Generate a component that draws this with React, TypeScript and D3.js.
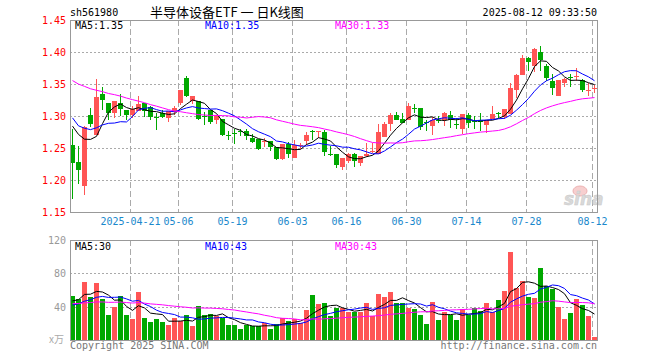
import React, { useRef, useEffect } from "react";
import * as d3 from "d3";

// trading days shown (2025)
const days = (
  "04-07 04-08 04-09 04-10 04-11 04-14 04-15 04-16 04-17 04-18 04-21 04-22 04-23 04-24 04-25 04-28 04-29 04-30 " +
  "05-06 05-07 05-08 05-09 05-12 05-13 05-14 05-15 05-16 05-19 05-20 05-21 05-22 05-23 05-26 05-27 05-28 05-29 05-30 " +
  "06-03 06-04 06-05 06-06 06-09 06-10 06-11 06-12 06-13 06-16 06-17 06-18 06-19 06-20 06-23 06-24 06-25 06-26 06-27 06-30 " +
  "07-01 07-02 07-03 07-04 07-07 07-08 07-09 07-10 07-11 07-14 07-15 07-16 07-17 07-18 07-21 07-22 07-23 07-24 07-25 07-28 07-29 07-30 07-31 " +
  "08-01 08-04 08-05 08-06 08-07 08-08 08-11 08-12"
).split(" ");

const opens = [
  1.254, 1.228, 1.19, 1.301, 1.271, 1.335, 1.321, 1.304, 1.321, 1.31,
  1.301, 1.308, 1.321, 1.314, 1.299, 1.304, 1.297, 1.306, 1.32, 1.36,
  1.324, 1.324, 1.3, 1.31, 1.293, 1.296, 1.27, 1.273, 1.276, 1.276,
  1.266, 1.264, 1.26, 1.261, 1.252, 1.233, 1.257, 1.234, 1.253, 1.261,
  1.277, 1.275, 1.275, 1.24, 1.24, 1.22, 1.229, 1.24, 1.226, 1.238,
  1.243, 1.241, 1.267, 1.288, 1.301, 1.295, 1.293, 1.312, 1.312, 1.291,
  1.284, 1.293, 1.293, 1.302, 1.287, 1.279, 1.301, 1.292, 1.294, 1.286,
  1.296, 1.305, 1.298, 1.303, 1.341, 1.364, 1.39, 1.378, 1.4, 1.378,
  1.355, 1.332, 1.352, 1.361, 1.361, 1.357, 1.339, 1.342,
];
const highs = [
  1.28, 1.253, 1.284, 1.313, 1.358, 1.346, 1.321, 1.324, 1.335, 1.31,
  1.315, 1.332, 1.321, 1.316, 1.304, 1.31, 1.308, 1.316, 1.34, 1.363,
  1.332, 1.324, 1.306, 1.31, 1.301, 1.296, 1.276, 1.279, 1.279, 1.279,
  1.272, 1.264, 1.266, 1.261, 1.252, 1.257, 1.259, 1.263, 1.258, 1.275,
  1.278, 1.276, 1.278, 1.253, 1.24, 1.235, 1.242, 1.242, 1.238, 1.258,
  1.258, 1.287, 1.29, 1.305, 1.307, 1.305, 1.321, 1.318, 1.312, 1.293,
  1.298, 1.3, 1.307, 1.308, 1.297, 1.303, 1.305, 1.3, 1.304, 1.293,
  1.315, 1.307, 1.311, 1.352, 1.366, 1.395, 1.392, 1.406, 1.409, 1.381,
  1.366, 1.357, 1.36, 1.365, 1.375, 1.358, 1.352, 1.348,
];
const lows = [
  1.171, 1.193, 1.177, 1.283, 1.27, 1.31, 1.293, 1.297, 1.3, 1.293,
  1.297, 1.308, 1.298, 1.294, 1.278, 1.297, 1.291, 1.301, 1.317, 1.33,
  1.318, 1.294, 1.286, 1.288, 1.288, 1.269, 1.263, 1.257, 1.268, 1.263,
  1.258, 1.247, 1.252, 1.246, 1.231, 1.232, 1.234, 1.234, 1.249, 1.255,
  1.263, 1.266, 1.237, 1.237, 1.219, 1.216, 1.227, 1.221, 1.222, 1.236,
  1.242, 1.241, 1.267, 1.276, 1.293, 1.289, 1.293, 1.305, 1.278, 1.276,
  1.271, 1.289, 1.285, 1.281, 1.279, 1.272, 1.281, 1.279, 1.277, 1.273,
  1.296, 1.297, 1.296, 1.303, 1.328, 1.364, 1.371, 1.369, 1.371, 1.355,
  1.333, 1.331, 1.345, 1.346, 1.354, 1.338, 1.331, 1.336,
];
const closes = [
  1.226, 1.215, 1.283, 1.288, 1.329, 1.325, 1.305, 1.324, 1.311, 1.301,
  1.311, 1.318, 1.308, 1.299, 1.298, 1.299, 1.308, 1.313, 1.34, 1.332,
  1.332, 1.296, 1.299, 1.291, 1.301, 1.271, 1.269, 1.272, 1.275, 1.268,
  1.26, 1.248, 1.261, 1.252, 1.233, 1.257, 1.241, 1.254, 1.254, 1.271,
  1.276, 1.276, 1.243, 1.239, 1.224, 1.235, 1.24, 1.229, 1.238, 1.24,
  1.246, 1.275, 1.288, 1.301, 1.293, 1.289, 1.315, 1.311, 1.283, 1.29,
  1.294, 1.292, 1.305, 1.293, 1.286, 1.303, 1.289, 1.291, 1.291, 1.293,
  1.303, 1.303, 1.311, 1.343, 1.364, 1.391, 1.384, 1.404, 1.388, 1.36,
  1.343, 1.357, 1.358, 1.36, 1.362, 1.34, 1.34, 1.343,
];
// volume, 万手
const volumes = [
  52.8, 48.8, 70, 51.2, 68.8, 49.2, 30, 39.6, 52.8, 30,
  25.2, 58, 26.4, 21.6, 25.2, 21.6, 18, 26.4, 22.4, 30,
  16.8, 40.8, 30, 31.2, 28.4, 26.4, 18, 18, 13.2, 18,
  16.8, 16.8, 20.4, 13.2, 19.2, 26.4, 22.4, 25.2, 20.4, 36,
  54, 43.2, 44.4, 28.8, 38.4, 38.4, 33.6, 33.6, 33.6, 44.4,
  28.8, 55.2, 51.6, 57.6, 44.4, 44.4, 38.4, 37.2, 30, 19.2,
  45.6, 24, 33.6, 30, 24, 36.8, 30, 38.4, 34.8, 44.4,
  33.6, 48, 58.8, 105.6, 62.4, 70.8, 51.6, 50.4, 86.4, 64.8,
  61.6, 39.6, 25.2, 32.4, 49.2, 41.6, 28.8, 3.6,
];

// sessions before 04-07, only used to start the moving averages (estimated from where the MA lines begin)
const preCloses = [
  1.38, 1.39, 1.4, 1.4, 1.39, 1.39, 1.38, 1.38, 1.39, 1.385,
  1.39, 1.38, 1.39, 1.37, 1.38, 1.39, 1.38, 1.37, 1.38, 1.375,
  1.34, 1.32, 1.31, 1.3, 1.28, 1.28, 1.32, 1.29, 1.305,
];
const preVolumes = [
  42, 48, 40, 46, 50, 44, 38, 45, 47, 43,
  41, 46, 49, 42, 39, 45, 48, 44, 47, 44,
  35, 38, 33, 40, 39, 42, 38, 50, 52,
];

const tickDays = ["04-21", "05-06", "05-19", "06-03", "06-16", "06-30", "07-14", "07-28", "08-12"];
const tickLabels = ["2025-04-21", "05-06", "05-19", "06-03", "06-16", "06-30", "07-14", "07-28", "08-12"];
const priceTicks = [1.45, 1.4, 1.35, 1.3, 1.25, 1.2, 1.15];
const volTicks = [120, 80, 40];
const maPeriods = [5, 10, 30];
const maColors = ["#000000", "#0000ff", "#ff00ff"];
const priceLegend = ["MA5:1.35", "MA10:1.35", "MA30:1.33"];
const volLegend = ["MA5:30", "MA10:43", "MA30:43"];

const RED = "#ff5555";
const GREEN = "#00a800";
const MONO = "'DejaVu Sans Mono', monospace";

function movingAvg(values: number[], pre: number[], n: number) {
  const all = pre.concat(values);
  return values.map((_, i) => {
    const end = pre.length + i + 1;
    return d3.mean(all.slice(end - n, end)) as number;
  });
}

const App = () => {
  const ref = useRef<SVGSVGElement>(null);

  useEffect(() => {
    if (!ref.current) return;
    const svg = d3.select(ref.current);
    svg.selectAll("*").remove();

    const left = 70;
    const right = 597;
    const pTop = 20;
    const pBot = 212;
    const vTop = 240;
    const vBot = 340;

    const x = d3.scaleBand().domain(days).range([left, right]).paddingInner(1 / 6).paddingOuter(0);
    const bw = x.bandwidth();
    const cx = (d: string) => (x(d) as number) + bw / 2;
    const y = d3.scaleLinear().domain([1.15, 1.45]).range([pBot, pTop]);
    const yv = d3.scaleLinear().domain([0, 120]).range([vBot, vTop]);

    svg.append("rect").attr("width", 660).attr("height", 360).attr("fill", "#fff");

    // header
    svg.append("text").attr("x", 70).attr("y", 16).attr("font-family", MONO).attr("font-size", 10)
      .attr("fill", "#000").text("sh561980");
    svg.append("text").attr("x", 150).attr("y", 17).attr("font-family", "'Noto Sans CJK SC', sans-serif")
      .attr("font-size", 13).attr("fill", "#000").text("半导体设备ETF 一 日K线图");
    svg.append("text").attr("x", right).attr("y", 16).attr("text-anchor", "end").attr("font-family", MONO)
      .attr("font-size", 10).attr("fill", "#000").text("2025-08-12 09:33:50");

    // grids
    const grid = svg.append("g").attr("shape-rendering", "crispEdges");
    grid.selectAll(".hp").data(priceTicks.slice(1, -1)).join("line")
      .attr("x1", left).attr("x2", right)
      .attr("y1", (d) => Math.round(y(d)) + 0.5).attr("y2", (d) => Math.round(y(d)) + 0.5)
      .attr("stroke", "#aaa").attr("stroke-dasharray", "2,2");
    grid.selectAll(".hv").data([80, 40]).join("line")
      .attr("x1", left).attr("x2", right)
      .attr("y1", (d) => Math.round(yv(d)) + 0.5).attr("y2", (d) => Math.round(yv(d)) + 0.5)
      .attr("stroke", "#aaa").attr("stroke-dasharray", "2,2");
    [[pTop, pBot], [vTop, vBot]].forEach(([t, b]) => {
      grid.append("g").selectAll("line").data(tickDays).join("line")
        .attr("x1", (d) => (x(d) as number) + 0.5).attr("x2", (d) => (x(d) as number) + 0.5)
        .attr("y1", t).attr("y2", b)
        .attr("stroke", "#aaa").attr("stroke-dasharray", "6,3");
    });

    // price axis labels
    svg.append("g").selectAll("text").data(priceTicks).join("text")
      .attr("x", 66).attr("y", (d) => y(d) + 1).attr("dominant-baseline", "middle")
      .attr("text-anchor", "end").attr("font-family", MONO).attr("font-size", 10).attr("fill", "#ff0000")
      .text((d) => d.toFixed(2));
    // volume axis labels
    svg.append("g").selectAll("text").data(volTicks).join("text")
      .attr("x", 66).attr("y", (d) => yv(d) + 1).attr("dominant-baseline", "middle")
      .attr("text-anchor", "end").attr("font-family", MONO).attr("font-size", 10).attr("fill", "#999")
      .text((d) => d);
    svg.append("text").attr("x", 64).attr("y", 340).attr("dominant-baseline", "middle").attr("text-anchor", "end")
      .attr("font-family", "'Noto Sans CJK SC', sans-serif").attr("font-size", 10).attr("fill", "#aaa").text("x万");

    // date labels
    svg.append("g").selectAll("text").data(tickDays).join("text")
      .attr("x", (d) => (x(d) as number) + 0.5).attr("y", 225).attr("text-anchor", "middle")
      .attr("font-family", MONO).attr("font-size", 10).attr("fill", "#1a88cc")
      .text((d, i) => tickLabels[i]);

    // watermark
    const wm = svg.append("g").attr("opacity", 0.8);
    wm.append("ellipse").attr("cx", 580).attr("cy", 191).attr("rx", 7).attr("ry", 5)
      .attr("fill", "#f6c4c4").attr("stroke", "#e8a0a0");
    wm.append("text").attr("x", 564).attr("y", 205).attr("font-family", "'DejaVu Sans', sans-serif")
      .attr("font-size", 17).attr("font-weight", "bold").attr("font-style", "italic")
      .attr("fill", "#d0d0d0").attr("stroke", "#bbb").attr("stroke-width", 0.5).text("sina");

    // candles
    const idx = d3.range(days.length);
    const candles = svg.append("g").attr("shape-rendering", "crispEdges");
    const col = (i: number) => (closes[i] >= opens[i] ? RED : GREEN);
    candles.selectAll("line").data(idx).join("line")
      .attr("x1", (i) => Math.floor(cx(days[i])) + 0.5).attr("x2", (i) => Math.floor(cx(days[i])) + 0.5)
      .attr("y1", (i) => y(highs[i])).attr("y2", (i) => y(lows[i]))
      .attr("stroke", col);
    candles.selectAll("rect").data(idx).join("rect")
      .attr("x", (i) => x(days[i]) as number)
      .attr("y", (i) => Math.min(y(opens[i]), y(closes[i])))
      .attr("width", bw)
      .attr("height", (i) => Math.max(1, Math.abs(y(opens[i]) - y(closes[i]))))
      .attr("fill", col);

    // volume bars
    svg.append("g").attr("shape-rendering", "crispEdges").selectAll("rect").data(idx).join("rect")
      .attr("x", (i) => x(days[i]) as number)
      .attr("y", (i) => yv(volumes[i]))
      .attr("width", bw)
      .attr("height", (i) => vBot - yv(volumes[i]))
      .attr("fill", col);

    // moving averages
    maPeriods.forEach((n, k) => {
      const pm = movingAvg(closes, preCloses, n);
      const vm = movingAvg(volumes, preVolumes, n);
      const lp = d3.line<number>().x((v, i) => cx(days[i])).y((v) => y(v));
      const lv = d3.line<number>().x((v, i) => cx(days[i])).y((v) => yv(v));
      svg.append("path").attr("d", lp(pm)).attr("fill", "none").attr("stroke", maColors[k]).attr("stroke-width", 1);
      svg.append("path").attr("d", lv(vm)).attr("fill", "none").attr("stroke", maColors[k]).attr("stroke-width", 1);
    });

    // frames
    const frames = svg.append("g").attr("shape-rendering", "crispEdges");
    [[pTop, pBot], [vTop, vBot]].forEach(([t, b]) => {
      frames.append("rect").attr("x", left + 0.5).attr("y", t + 0.5).attr("width", right - left)
        .attr("height", b - t).attr("fill", "none").attr("stroke", "#999");
    });

    // legends
    const legX = [75, 205, 335];
    priceLegend.forEach((t, k) => {
      svg.append("text").attr("x", legX[k]).attr("y", 29).attr("font-family", MONO).attr("font-size", 10)
        .attr("fill", maColors[k]).text(t);
    });
    volLegend.forEach((t, k) => {
      svg.append("text").attr("x", legX[k]).attr("y", 250).attr("font-family", MONO).attr("font-size", 10)
        .attr("fill", maColors[k]).text(t);
    });

    // footer
    svg.append("text").attr("x", 70).attr("y", 349).attr("font-family", MONO).attr("font-size", 10)
      .attr("fill", "#777").text("Copyright 2025 SINA.COM");
    svg.append("text").attr("x", right).attr("y", 349).attr("text-anchor", "end").attr("font-family", MONO)
      .attr("font-size", 10).attr("fill", "#777").text("http://finance.sina.com.cn");
  }, []);

  return (
    <svg
      ref={ref}
      width={660}
      height={360}
      style={{ position: "absolute", left: 0, top: 0, display: "block" }}
    />
  );
};

export default App;
